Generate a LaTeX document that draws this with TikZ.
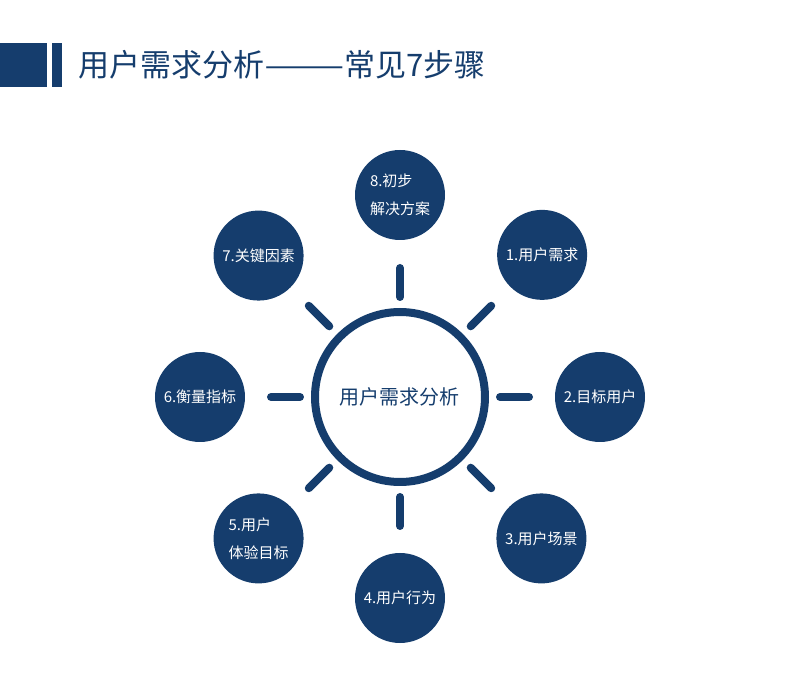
\documentclass[tikz,border=0pt]{standalone}
\usepackage{fontspec}
\usepackage{graphicx}
\setmainfont{Noto Sans CJK SC}
\definecolor{navy}{HTML}{153D6D}
\begin{document}
\begin{tikzpicture}[x=1pt,y=1pt,
    stepnode/.style={circle,fill=navy,minimum size=90pt,inner sep=0pt,
      text=white,font=\fontsize{15}{28}\selectfont,align=left},
    ray/.style={draw=navy,line width=8pt,line cap=round}]
            \useasboundingbox (-400,-279) rectangle (400,397);
            % header
            \fill[navy] (-400,310) rectangle (-353,354);
            \fill[navy] (-348,310) rectangle (-338,354);
            \node[anchor=west,inner sep=0pt,text=navy,font=\fontsize{31}{36}\selectfont] (title) at (-322,332) {用户需求分析\scalebox{1.55}[1]{——}常见7步骤};
            % hub
            \node[circle,draw=navy,line width=8pt,minimum size=170pt,inner sep=0pt,
              text=navy,font=\fontsize{20}{24}\selectfont] (hub) at (0,0) {用户需求分析};
            \draw[ray] ([shift={(90:100)}]hub.center) -- ([shift={(90:129)}]hub.center);
            \draw[ray] ([shift={(45:100)}]hub.center) -- ([shift={(45:129)}]hub.center);
            \draw[ray] ([shift={(0:100)}]hub.center) -- ([shift={(0:129)}]hub.center);
            \draw[ray] ([shift={(-45:100)}]hub.center) -- ([shift={(-45:129)}]hub.center);
            \draw[ray] ([shift={(-90:100)}]hub.center) -- ([shift={(-90:129)}]hub.center);
            \draw[ray] ([shift={(-135:100)}]hub.center) -- ([shift={(-135:129)}]hub.center);
            \draw[ray] ([shift={(180:100)}]hub.center) -- ([shift={(180:129)}]hub.center);
            \draw[ray] ([shift={(135:100)}]hub.center) -- ([shift={(135:129)}]hub.center);
            % steps
            \node[stepnode] (s1) at (45:201) {1.用户需求};
            \node[stepnode] (s2) at (0:200) {2.目标用户};
            \node[stepnode] (s3) at (-45:200) {3.用户场景};
            \node[stepnode] (s4) at (-90:201) {4.用户行为};
            \node[stepnode] (s5) at (-135:200) {5.用户\\体验目标};
            \node[stepnode] (s6) at (180:200) {6.衡量指标};
            \node[stepnode] (s7) at (135:200) {7.关键因素};
            \node[stepnode] (s8) at (90:202) {8.初步\\解决方案};
         \end{tikzpicture}
\end{document}
